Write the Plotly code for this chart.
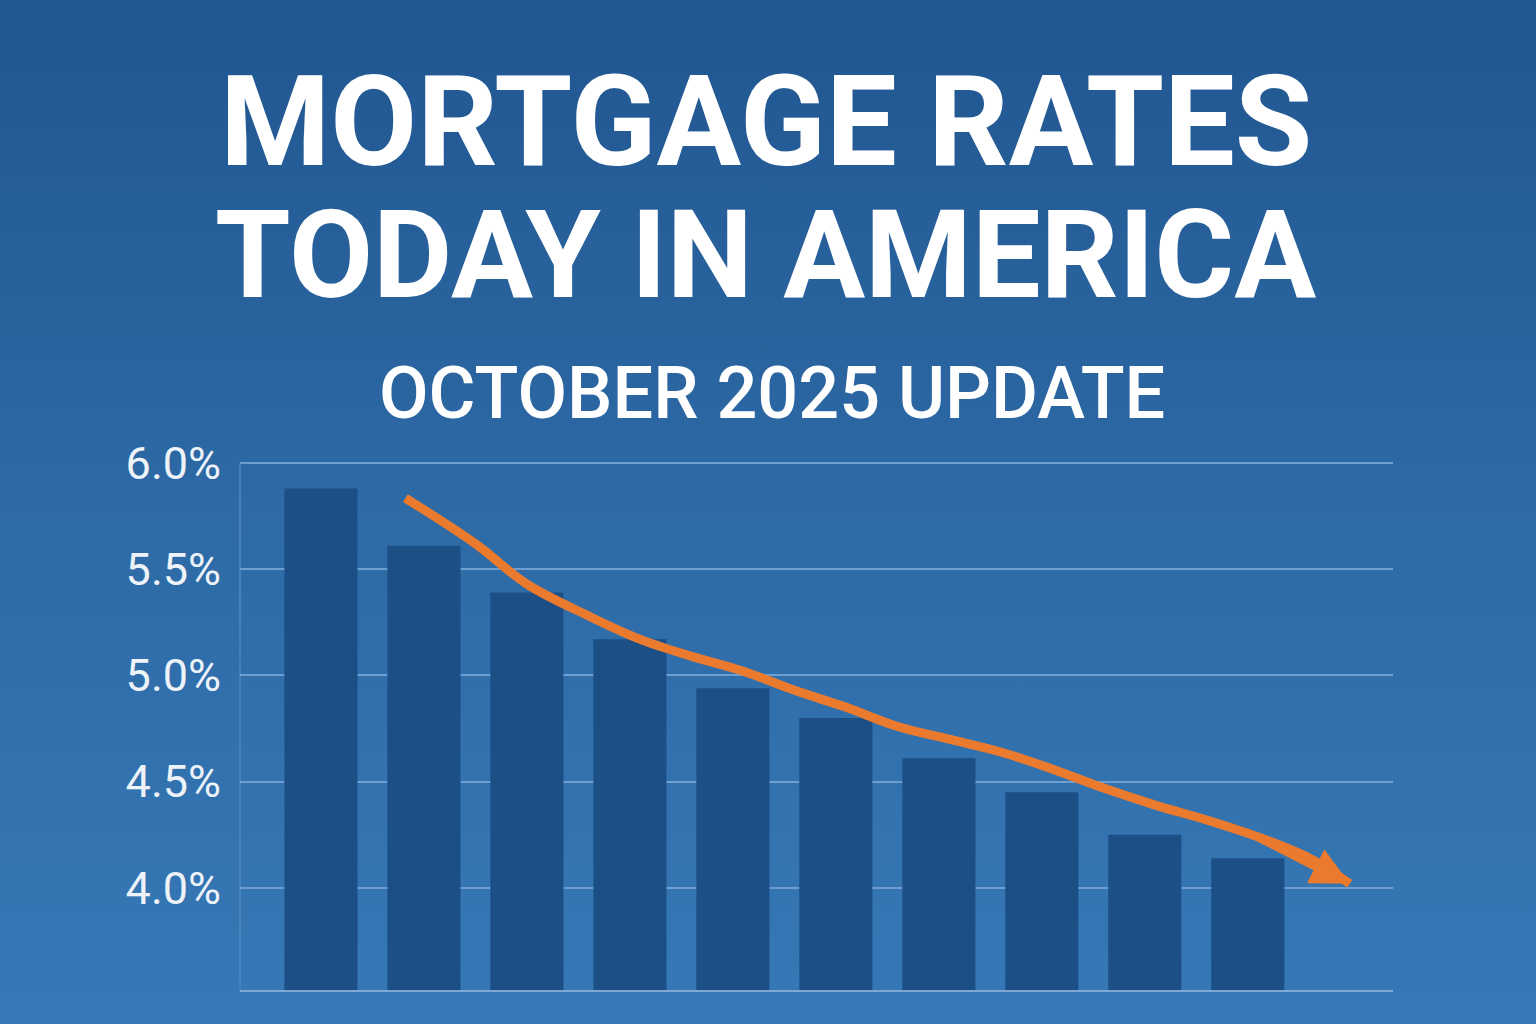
import plotly.graph_objects as go

months = list(range(10))
rates = [5.88, 5.61, 5.39, 5.17, 4.94, 4.80, 4.61, 4.45, 4.25, 4.14]
trend_x = [0.82, 1.5, 2.0, 2.6, 3.1, 3.6, 4.1, 4.6, 5.1, 5.6, 6.1, 6.6, 7.1, 7.6, 8.1, 8.6, 9.1, 9.6, 9.99]
trend_y = [5.835, 5.62, 5.43, 5.28, 5.17, 5.09, 5.02, 4.93, 4.85, 4.76, 4.70, 4.64, 4.56, 4.47, 4.39, 4.32, 4.24, 4.14, 4.02]
tick_vals = [4.0, 4.5, 5.0, 5.5, 6.0]
tick_text = ["4.0%", "4.5%", "5.0%", "5.5%", "6.0%"]

fig = go.Figure()
fig.add_trace(go.Bar(x=months, y=rates, width=0.71, marker_color="#1d4f87", marker_line_width=0))
fig.add_trace(go.Scatter(x=trend_x, y=trend_y, mode="lines", line=dict(color="#ea7a2e", width=9, shape="spline"),
                         hoverinfo="skip"))
fig.add_annotation(x=trend_x[-1], y=trend_y[-1], ax=trend_x[-3], ay=trend_y[-3],
                   xref="x", yref="y", axref="x", ayref="y", text="", showarrow=True,
                   arrowhead=2, arrowsize=0.85, arrowwidth=9, arrowcolor="#ea7a2e")

svg = ("data:image/svg+xml;utf8,<svg xmlns='http://www.w3.org/2000/svg' width='1536' height='1024'>"
       "<defs><linearGradient id='g' x1='0' y1='0' x2='0' y2='1'>"
       "<stop offset='0' stop-color='%23215690'/><stop offset='0.5' stop-color='%232d6aa6'/>"
       "<stop offset='1' stop-color='%233679b6'/></linearGradient></defs>"
       "<rect width='1536' height='1024' fill='url(%23g)'/></svg>")
fig.add_layout_image(source=svg, xref="paper", yref="paper", x=-240/1153, y=(1024-33)/528,
                     sizex=1536/1153, sizey=1024/528, sizing="stretch", xanchor="left", yanchor="top",
                     layer="below")

shapes = [dict(type="line", xref="paper", yref="paper", x0=0, x1=1, y0=0, y1=0,
               line=dict(color="#7fa8d4", width=2)),
          dict(type="line", xref="paper", yref="paper", x0=0, x1=1, y0=1, y1=1,
               line=dict(color="#6f9fd0", width=2), layer="below"),
          dict(type="line", xref="paper", yref="paper", x0=0, x1=0, y0=0, y1=1,
               line=dict(color="#4f86bf", width=1.5), layer="below")]

fig.update_layout(
    width=1536, height=1024, showlegend=False, shapes=shapes,
    margin=dict(l=240, r=143, t=463, b=33),
    paper_bgcolor="#2b679f", plot_bgcolor="rgba(0,0,0,0)",
    xaxis=dict(range=[-0.786, 10.41], showticklabels=False, showgrid=False, zeroline=False),
    yaxis=dict(range=[3.515, 6.0], tickvals=tick_vals, ticktext=tick_text,
               gridcolor="#6f9fd0", gridwidth=2, zeroline=False, ticks="", ticklabelstandoff=18,
               tickfont=dict(family="Roboto", size=45, color="#eef3f9")),
)
def ypix(p):
    return (991 - p) / 528
fig.add_annotation(xref="paper", yref="paper", x=0.5, y=ypix(122), xshift=-51, yanchor="middle",
                   showarrow=False, text="MORTGAGE RATES",
                   font=dict(family="Roboto", size=126, color="white", weight="bold"))
fig.add_annotation(xref="paper", yref="paper", x=0.5, y=ypix(256), xshift=-51, yanchor="middle",
                   showarrow=False, text="TODAY IN AMERICA",
                   font=dict(family="Roboto", size=122, color="white", weight="bold"))
fig.add_annotation(xref="paper", yref="paper", x=0.5, y=ypix(393), xshift=-45, yanchor="middle",
                   showarrow=False, text="OCTOBER 2025 UPDATE",
                   font=dict(family="Roboto", size=72, color="white", weight=500))
fig.write_html("out.html", config={"displayModeBar": False})
with open("out.html") as f:
    h = f.read()
h = h.replace("<head>", "<head><style>body{margin:0;}</style>", 1)
with open("out.html", "w") as f:
    f.write(h)
